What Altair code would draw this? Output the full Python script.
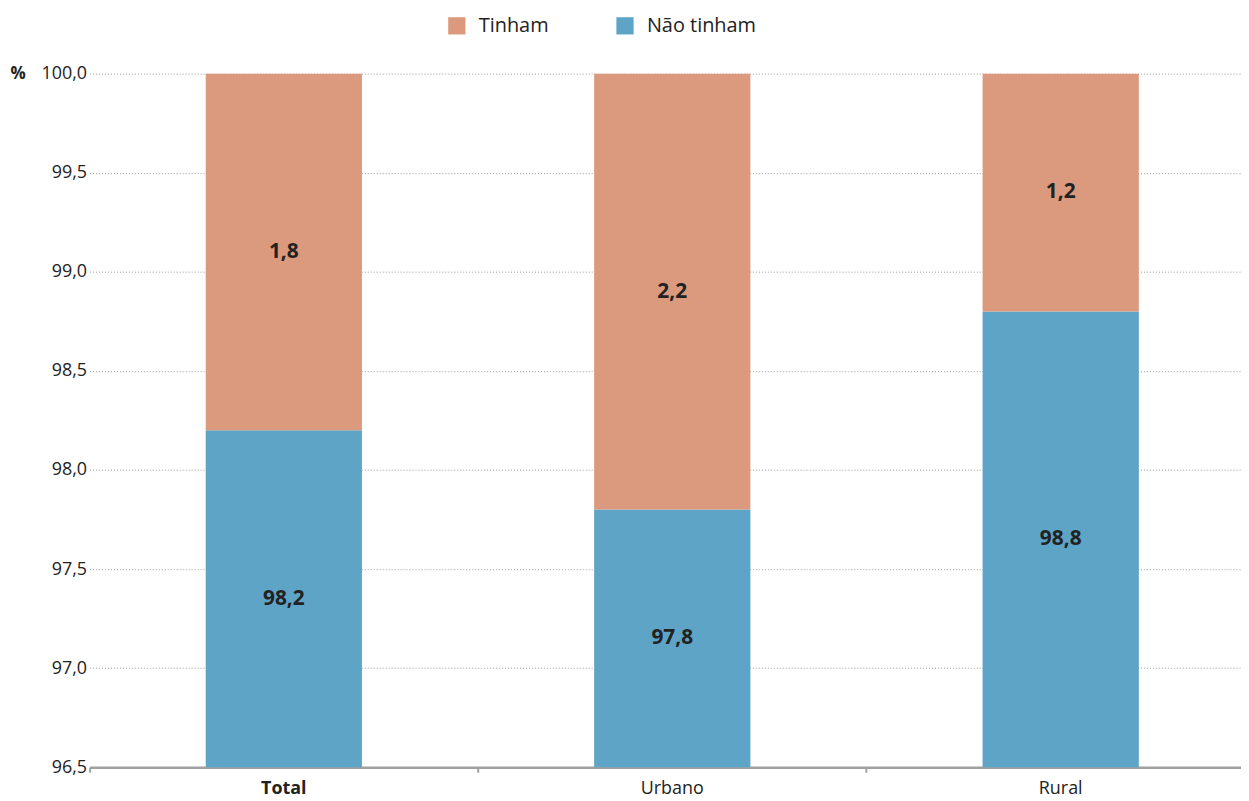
import altair as alt
import pandas as pd

categories = ["Total", "Urbano", "Rural"]
nao_tinham = [98.2, 97.8, 98.8]
tinham = [1.8, 2.2, 1.2]
groups = ["Tinham", "Não tinham"]
colors = ["#DB9A7D", "#5EA4C7"]

rows = []
for c, n, t in zip(categories, nao_tinham, tinham):
    rows.append({"cat": c, "grupo": "Não tinham", "pct": n, "ord": 0})
    rows.append({"cat": c, "grupo": "Tinham", "pct": t, "ord": 1})
df = pd.DataFrame(rows)

FONT = "Open Sans"
YMIN, YMAX = 96.5, 100.0

x = alt.X("cat:N", sort=categories, title=None,
          scale=alt.Scale(paddingInner=0, paddingOuter=0, range=[0, 1171]),
          axis=alt.Axis(labelAngle=0, labelFontSize=18, labelColor="#222",
                        labelFont=FONT, labelPadding=21, labelBaseline="alphabetic",
                        labelFontWeight=alt.ExprRef("datum.value == 'Total' ? 'bold' : 'normal'"),
                        domainColor="#a0a0a0", domainWidth=2.5,
                        tickColor="#a0a0a0", tickSize=5, tickWidth=2,
                        bandPosition=0, grid=False))

base = alt.Chart(df).transform_stack(
    stack="pct", groupby=["cat"], as_=["y0", "y1"],
    sort=[alt.SortField("ord", order="ascending")]
)

bars = base.mark_bar(size=157, clip=True).encode(
    x=x,
    y=alt.Y("y0:Q", scale=alt.Scale(domain=[YMIN, YMAX], nice=False, zero=False),
            title="%",
            axis=alt.Axis(values=[96.5, 97.0, 97.5, 98.0, 98.5, 99.0, 99.5, 100.0],
                          labelExpr="replace(format(datum.value, '.1f'), '.', ',')",
                          labelFontSize=18, labelColor="#222", labelFont=FONT,
                          labelPadding=3, ticks=False, domain=False,
                          grid=True, gridColor="#999", gridDash=[1, 2], gridWidth=1,
                          titleAngle=0, titleX=-80, titleY=0, titleAlign="left",
                          titleBaseline="middle", titleFontSize=17, titleFont=FONT,
                          titleFontWeight="bold", titleColor="#222")),
    y2="y1:Q",
    color=alt.Color("grupo:N", sort=groups,
                    scale=alt.Scale(domain=groups, range=colors),
                    legend=alt.Legend(title=None, orient="none", direction="horizontal",
                                      legendX=359, legendY=-58,
                                      symbolType="square", symbolSize=300,
                                      symbolStrokeWidth=0, symbolOpacity=1,
                                      labelFontSize=20, labelFont=FONT,
                                      labelColor="#222", labelOffset=12,
                                      columnPadding=66)),
)

labels = base.transform_calculate(
    mid="(max(datum.y0, %s) + datum.y1) / 2" % YMIN,
    lbl="replace(format(datum.pct, '.1f'), '.', ',')",
).mark_text(fontSize=21, fontWeight="bold", font=FONT, color="#222",
            baseline="middle").encode(
    x=alt.X("cat:N", sort=categories),
    y=alt.Y("mid:Q"),
    text="lbl:N",
)

chart = alt.layer(bars, labels).properties(
    width=1157, height=697,
    autosize=alt.AutoSizeParams(type="none"),
    padding={"left": 82, "top": 64, "right": 0, "bottom": 32},
).configure_view(stroke=None)

chart.save("out.html", embed_options={"renderer": "svg", "actions": False})
